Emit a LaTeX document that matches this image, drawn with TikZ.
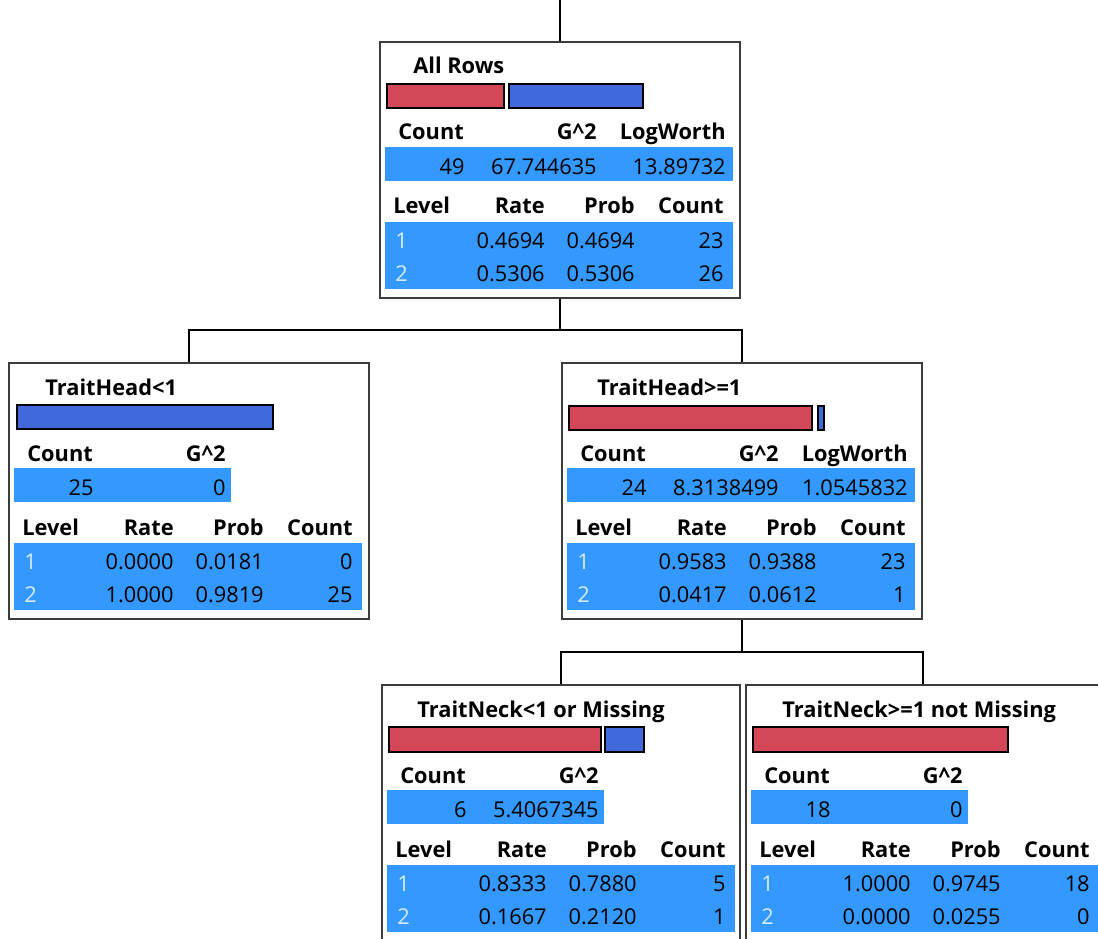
\documentclass[tikz,border=0pt]{standalone}
\usepackage{fontspec}
\setmainfont{Open Sans}
\usepackage{tikz}
\usetikzlibrary{calc}
\definecolor{barred}{RGB}{210,72,88}
\definecolor{barblue}{RGB}{64,106,220}
\definecolor{bandblue}{RGB}{51,153,255}
\definecolor{boxgray}{RGB}{60,60,60}
\definecolor{levelwhite}{RGB}{215,235,255}
\newcommand{\nodefont}{\fontsize{12.4}{15}\selectfont}
\tikzset{
  treebox/.style={
    draw=boxgray,
    line width=1.1pt,
    inner sep=0pt,
    minimum height=5.12cm},
  bar/.style={draw=black, line width=0.8pt},
  title/.style={anchor=base west, inner sep=0pt, font=\nodefont\bfseries},
  hdr/.style={anchor=base east, inner sep=0pt, font=\nodefont\bfseries},
  val/.style={anchor=base east, inner sep=0pt, font=\nodefont},
  lvl/.style={anchor=base west, inner sep=0pt, font=\nodefont, text=levelwhite},
  link/.style={draw=black, line width=1.1pt}
  }
\newcommand{\countrow}[4][222]{%
  \fill[bandblue] (5,105) rectangle (#1,139);
  \node[hdr, anchor=base west] (#2-hc) at (18,98) {Count};
  \node[hdr] (#2-hg) at (217,98) {G\textasciicircum 2};
  \node[val] (#2-c) at (85,132) {#3};
  \node[val] (#2-g) at (217,132) {#4};
}
\newcommand{\logworth}[2]{%
  \node[hdr] (#1-hl) at (346,98) {LogWorth};
  \node[val] (#1-l) at (346,132) {#2};
}
\newcommand{\levels}[7]{%
  \fill[bandblue] (5,180) rectangle (353,247);
  \node[hdr, anchor=base west] (#1-hlv) at (13,172) {Level};
  \node[hdr] (#1-hr) at (165,172) {Rate};
  \node[hdr] (#1-hp) at (255,172) {Prob};
  \node[hdr] (#1-hn) at (344,172) {Count};
  \node[lvl] (#1-l1) at (15,206) {1};
  \node[val] (#1-r1) at (165,206) {#2};
  \node[val] (#1-p1) at (255,206) {#3};
  \node[val] (#1-n1) at (344,206) {#4};
  \node[lvl] (#1-l2) at (15,239) {2};
  \node[val] (#1-r2) at (165,239) {#5};
  \node[val] (#1-p2) at (255,239) {#6};
  \node[val] (#1-n2) at (344,239) {#7};
}
\begin{document}
\begin{tikzpicture}[x=0.02cm, y=-0.02cm]
  \useasboundingbox (0,0) rectangle (1098,939);
  \clip (0,0) rectangle (1098,939);
  \begin{scope}[shift={(380,42)}]
    \node[treebox, minimum width=7.2cm] (root) at (180,128) {};
    \node[title] (root-t) at (33,32) {All Rows};
    \draw[bar, fill=barred] (7,42) rectangle (124,66);
    \draw[bar, fill=barblue] (129,42) rectangle (263,66);
    \countrow[353]{root}{49}{67.744635}
    \logworth{root}{13.89732}
    \levels{root}{0.4694}{0.4694}{23}{0.5306}{0.5306}{26}
  \end{scope}
  \begin{scope}[shift={(9,363)}]
    \node[treebox, minimum width=7.2cm] (headl) at (180,128) {};
    \node[title] (headl-t) at (36,32) {TraitHead<1};
    \draw[bar, fill=barblue] (8,42) rectangle (264,66);
    \countrow{headl}{25}{0}
    \levels{headl}{0.0000}{0.0181}{0}{1.0000}{0.9819}{25}
  \end{scope}
  \begin{scope}[shift={(562,363)}]
    \node[treebox, minimum width=7.2cm] (headr) at (180,128) {};
    \node[title] (headr-t) at (35,32) {TraitHead>=1};
    \draw[bar, fill=barred] (7,43) rectangle (250,67);
    \draw[bar, fill=barblue] (256,43) rectangle (262,67);
    \countrow[353]{headr}{24}{8.3138499}
    \logworth{headr}{1.0545832}
    \levels{headr}{0.9583}{0.9388}{23}{0.0417}{0.0612}{1}
  \end{scope}
  \begin{scope}[shift={(382,685)}]
    \node[treebox, minimum width=7.16cm] (neckl) at (179,128) {};
    \node[title] (neckl-t) at (35,32) {TraitNeck<1 or Missing};
    \draw[bar, fill=barred] (7,42) rectangle (219,67);
    \draw[bar, fill=barblue] (223,42) rectangle (262,67);
    \countrow{neckl}{6}{5.4067345}
    \levels{neckl}{0.8333}{0.7880}{5}{0.1667}{0.2120}{1}
  \end{scope}
  \begin{scope}[shift={(746,685)}]
    \node[treebox, minimum width=7.08cm] (neckr) at (177,128) {};
    \node[title] (neckr-t) at (36,32) {TraitNeck>=1 not Missing};
    \draw[bar, fill=barred] (7,42) rectangle (262,67);
    \countrow{neckr}{18}{0}
    \levels{neckr}{1.0000}{0.9745}{18}{0.0000}{0.0255}{0}
  \end{scope}
  \coordinate (top) at (560,0);
  \coordinate (split1) at (560,330);
  \coordinate (split2) at (742,652);
  \draw[link] (top) to (root.north);
  \draw[link] (root.south) to (split1);
  \draw[link] (split1) -| (headl.north);
  \draw[link] (split1) -| (headr.north);
  \draw[link] (headr.south) to (split2);
  \draw[link] (split2) -| (neckl.north);
  \draw[link] (split2) -| (neckr.north);
\end{tikzpicture}
\end{document}
